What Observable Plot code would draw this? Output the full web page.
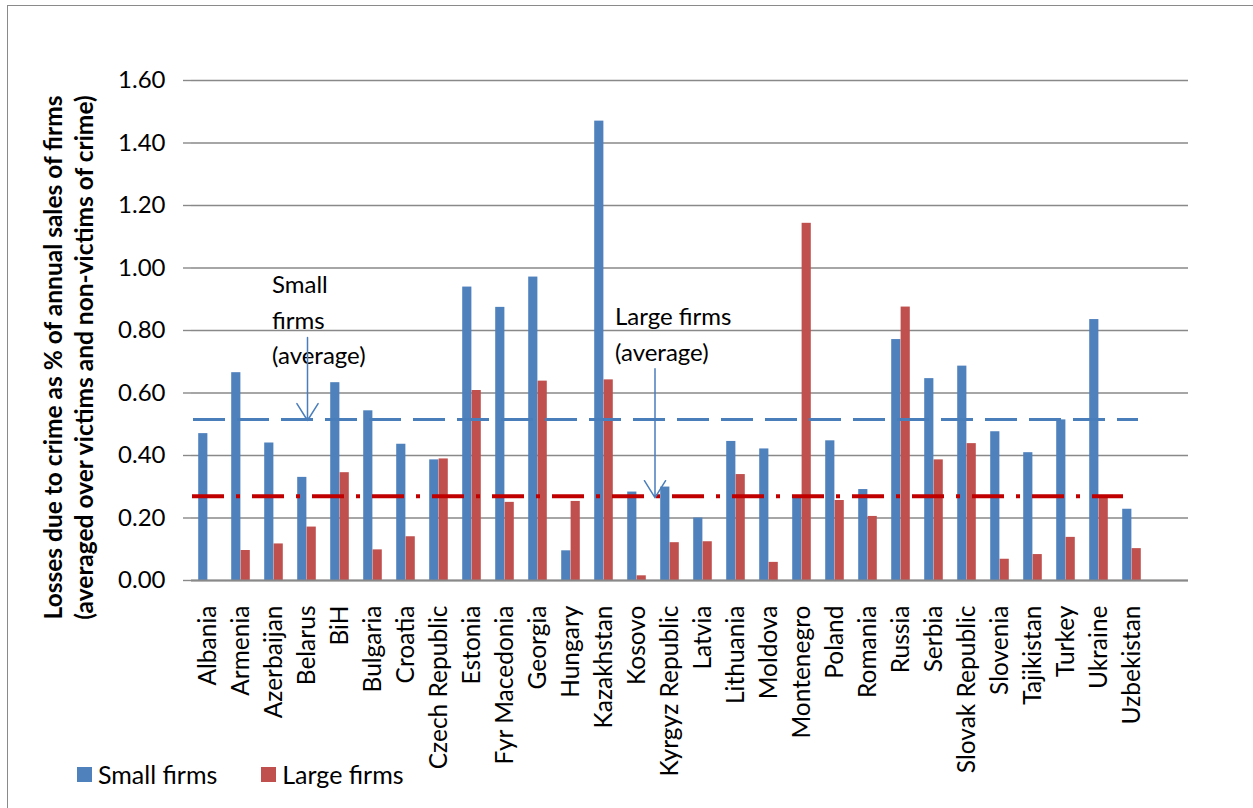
<!DOCTYPE html>
<html>
<head>
<meta charset="utf-8">
<script src="https://cdn.jsdelivr.net/npm/d3@7"></script>
<script src="https://cdn.jsdelivr.net/npm/@observablehq/plot@0.6"></script>
<style>
  body { margin: 0; background: #fff; font-family: Lato, sans-serif; }
  #chart { position: absolute; left: 0; top: 0; }
  #border { position: absolute; left: 7px; top: 5px; width: 1300px; height: 900px; border: 1.5px solid #8a8a8a; pointer-events: none; }
  #legend { position: absolute; left: 77px; top: 759px; display: flex; align-items: center; font-size: 25px; color: #000; }
  #legend .item { display: flex; align-items: center; margin-right: 44px; }
  #legend .key { display: inline-block; width: 15px; height: 15px; margin-right: 6px; }
</style>
</head>
<body>
<div id="chart"></div>
<div id="legend"></div>
<div id="border"></div>
<script>
// Losses due to crime, % of annual sales, by country and firm size
const countries = [
  "Albania", "Armenia", "Azerbaijan", "Belarus", "BiH", "Bulgaria", "Croatia",
  "Czech Republic", "Estonia", "Fyr Macedonia", "Georgia", "Hungary", "Kazakhstan",
  "Kosovo", "Kyrgyz Republic", "Latvia", "Lithuania", "Moldova", "Montenegro",
  "Poland", "Romania", "Russia", "Serbia", "Slovak Republic", "Slovenia",
  "Tajikistan", "Turkey", "Ukraine", "Uzbekistan"
];
const smallFirms = [
  0.47, 0.665, 0.44, 0.33, 0.633, 0.543, 0.436,
  0.386, 0.939, 0.874, 0.971, 0.095, 1.47,
  0.283, 0.299, 0.20, 0.445, 0.421, 0.265,
  0.447, 0.291, 0.771, 0.646, 0.686, 0.476,
  0.409, 0.514, 0.835, 0.228
];
const largeFirms = [
  0.0, 0.096, 0.117, 0.171, 0.345, 0.098, 0.14,
  0.389, 0.608, 0.25, 0.638, 0.253, 0.642,
  0.015, 0.121, 0.124, 0.339, 0.058, 1.143,
  0.256, 0.205, 0.875, 0.386, 0.438, 0.068,
  0.083, 0.138, 0.265, 0.102
];
// Cross-country averages drawn as reference lines
const avgSmall = 0.515;
const avgLarge = 0.27;

const seriesNames = ["Small firms", "Large firms"];
const seriesColors = ["#4F81BD", "#C0504D"];
const yTicks = [0, 0.2, 0.4, 0.6, 0.8, 1.0, 1.2, 1.4, 1.6];
const yTitle = [
  "Losses due to crime as % of annual sales of firms",
  "(averaged over victims and non-victims of crime)"
];
const noteSmall = { country: "Belarus", label: "Small\nfirms\n(average)", textY: 1.0, from: 0.778, to: 0.512 };
const noteLarge = { country: "Kosovo", arrowCountry: "Kyrgyz Republic", label: "Large firms\n(average)", textY: 0.897, from: 0.678, to: 0.265 };

const rows = countries.map((c, i) => ({ country: c, small: smallFirms[i], large: largeFirms[i] }));

const W = 1253, H = 790, ML = 191, MR = 65, MT = 80, MB = 210;
// one empty slot is left after the last country
const bw = (W - ML - MR) / (countries.length + 1);
const grid = "#898989";

const chart = Plot.plot({
  width: W,
  height: H,
  marginLeft: ML,
  marginRight: MR,
  marginTop: MT,
  marginBottom: MB,
  style: { fontFamily: "Lato, sans-serif", fontSize: "24px", background: "transparent", overflow: "visible", color: "#000" },
  x: { domain: countries, paddingInner: 0, paddingOuter: 0.5, align: 0, label: null },
  y: { domain: [0, 1.6], label: null },
  marks: [
    Plot.ruleY(yTicks, { stroke: grid, strokeWidth: 1.4 }),
    Plot.barY(rows, { x: "country", y: "small", fill: seriesColors[0], insetLeft: 0.217 * bw, insetRight: 0.5 * bw }),
    Plot.barY(rows, { x: "country", y: "large", fill: seriesColors[1], insetLeft: 0.5 * bw, insetRight: 0.217 * bw }),
    Plot.ruleY([0], { stroke: grid, strokeWidth: 2.2 }),
    Plot.axisY({ ticks: yTicks, tickFormat: d3.format(".2f"), tickSize: 8, tickPadding: 18, stroke: grid, strokeWidth: 1.4, line: true, label: null }),
    Plot.axisX({ tickRotate: -90, tickSize: 0, tickPadding: 25, fontSize: 24.5, label: null }),
    Plot.ruleY([avgSmall], { stroke: "#4A7EBB", strokeWidth: 3, strokeDasharray: "32,12", insetLeft: 2, insetRight: 50 }),
    Plot.ruleY([avgLarge], { stroke: "#C00000", strokeWidth: 4, strokeDasharray: "32,12,4,12", insetLeft: 1, insetRight: 65 }),
    Plot.text([noteSmall], { x: "country", y: "textY", text: "label", dx: -35, textAnchor: "start", lineAnchor: "top", lineHeight: 1.48, fill: "#000" }),
    Plot.text([noteLarge], { x: "country", y: "textY", text: "label", dx: -22, textAnchor: "start", lineAnchor: "top", lineHeight: 1.48, fill: "#000" }),
    Plot.arrow([noteSmall], { x1: "country", x2: "country", y1: "from", y2: "to", dx: 0.5, stroke: "#4A7EBB", strokeWidth: 1.5, headLength: 20, headAngle: 64 }),
    Plot.arrow([noteLarge], { x1: "arrowCountry", x2: "arrowCountry", y1: "from", y2: "to", dx: -15, stroke: "#4A7EBB", strokeWidth: 1.5, headLength: 20, headAngle: 64 }),
    Plot.text([yTitle.join("\n")], { frameAnchor: "left", text: d => d, rotate: -90, textAnchor: "middle", dx: -124, dy: 27, lineAnchor: "middle", lineHeight: 1.25, fontWeight: "bold", fontSize: 24.5, fill: "#000" })
  ]
});
document.getElementById("chart").appendChild(chart);

const legend = d3.select("#legend");
seriesNames.forEach((name, i) => {
  const item = legend.append("div").attr("class", "item");
  item.append("span").attr("class", "key").style("background", seriesColors[i]);
  item.append("span").text(name);
});
</script>
</body>
</html>
